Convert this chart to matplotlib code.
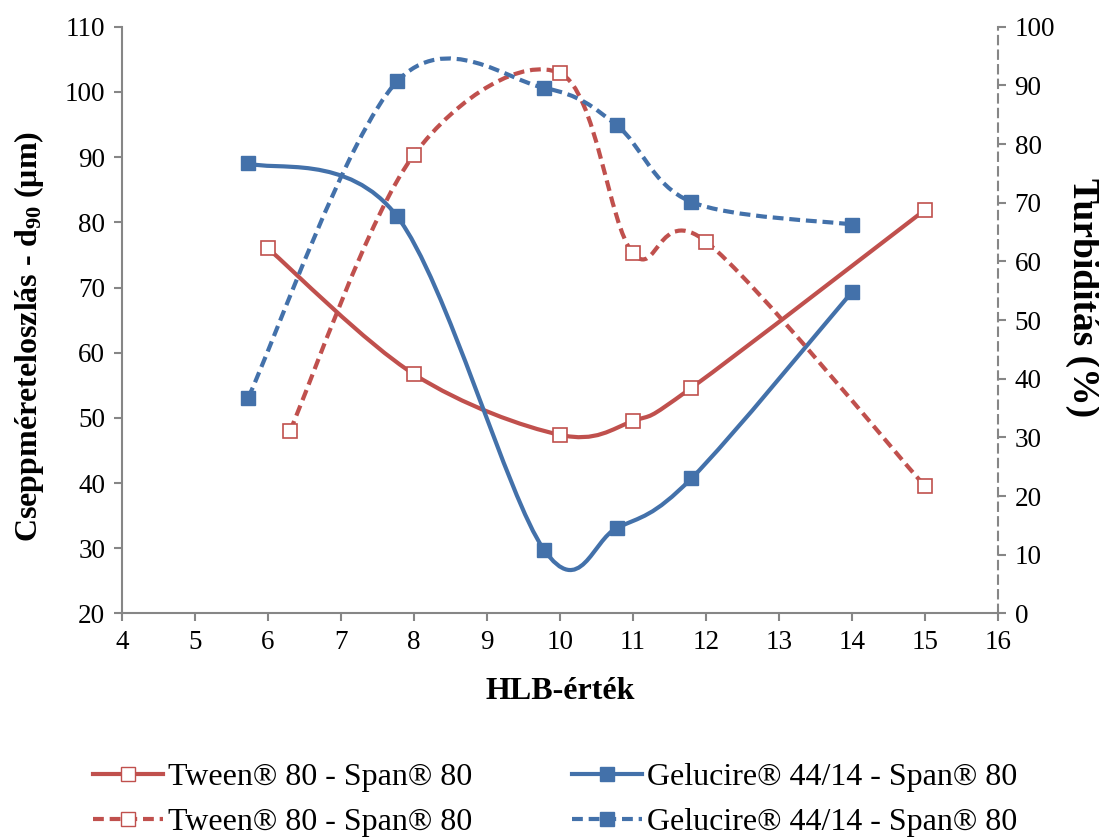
import matplotlib
matplotlib.use("Agg")
import matplotlib.pyplot as plt
import numpy as np
from matplotlib.path import Path
from matplotlib.patches import PathPatch
from matplotlib.lines import Line2D

plt.rcParams['font.family'] = ['Liberation Serif', 'DejaVu Serif']
plt.rcParams['mathtext.fontset'] = 'custom'
plt.rcParams['mathtext.rm'] = 'Liberation Serif'
plt.rcParams['mathtext.bf'] = 'Liberation Serif:bold'
plt.rcParams['mathtext.default'] = 'bf'

# droplet size d90 (left axis, µm)
tween_size_x = [6.0, 8.0, 10.0, 11.0, 11.8, 15.0]
tween_size_y = [76.0, 56.7, 47.4, 49.5, 54.6, 81.9]
gel_size_x = [5.73, 7.77, 9.78, 10.78, 11.8, 14.0]
gel_size_y = [89.1, 80.9, 29.8, 33.1, 40.7, 69.3]

# turbidity (right axis, %)
tween_turb_x = [6.3, 8.0, 10.0, 11.0, 12.0, 15.0]
tween_turb_y = [31.1, 78.2, 92.1, 61.4, 63.4, 21.7]
gel_turb_x = [5.73, 7.77, 9.78, 10.78, 11.79, 14.0]
gel_turb_y = [36.8, 90.7, 89.6, 83.2, 70.2, 66.3]

tween_label = 'Tween® 80 - Span® 80'
gel_label = 'Gelucire® 44/14 - Span® 80'

red = '#C0504D'
blue = '#4371AA'
grey = '#868686'
dash = (0, (2.6, 1.4))


def smooth_path(xs, ys):
    # excel-like smoothed line (catmull-rom as cubic bezier)
    pts = np.column_stack([xs, ys])
    n = len(pts)
    verts = [pts[0]]
    codes = [Path.MOVETO]
    for i in range(n - 1):
        p0 = pts[max(i - 1, 0)]
        p1 = pts[i]
        p2 = pts[i + 1]
        p3 = pts[min(i + 2, n - 1)]
        verts += [p1 + (p2 - p0) / 6, p2 - (p3 - p1) / 6, p2]
        codes += [Path.CURVE4] * 3
    return Path(verts, codes)


def draw(ax, xs, ys, color, ls, filled):
    ax.add_patch(PathPatch(smooth_path(xs, ys), fill=False, edgecolor=color,
                           lw=3, linestyle=ls, capstyle='butt', zorder=3))
    ax.plot(xs, ys, ls='none', marker='s', ms=10 if filled else 9.5,
            mfc=color if filled else 'white', mec=color,
            mew=1 if filled else 1.2, zorder=4)


fig = plt.figure(figsize=(10.99, 8.38), dpi=100)
ax = fig.add_axes([0.111, 0.268, 0.797, 0.700])
ax2 = ax.twinx()

draw(ax, tween_size_x, tween_size_y, red, '-', False)
draw(ax, gel_size_x, gel_size_y, blue, '-', True)
draw(ax2, tween_turb_x, tween_turb_y, red, dash, False)
draw(ax2, gel_turb_x, gel_turb_y, blue, dash, True)

ax.set_xlim(4, 16)
ax.set_ylim(20, 110)
ax2.set_ylim(0, 100)
ax.set_xticks(range(4, 17))
ax.set_yticks(range(20, 111, 10))
ax2.set_yticks(range(0, 101, 10))

for a in (ax, ax2):
    a.spines['top'].set_visible(False)
    for s in a.spines.values():
        s.set_color(grey)
        s.set_linewidth(1.5)
    a.tick_params(colors=grey, labelcolor='black', labelsize=19.5,
                  length=6, width=1.5)
ax.spines['right'].set_visible(False)
ax2.spines['left'].set_visible(False)
ax2.spines['bottom'].set_visible(False)
ax2.spines['right'].set_linestyle((0, (4, 3)))
ax.tick_params(axis='x', pad=6)
ax.tick_params(axis='y', pad=6)
ax2.tick_params(axis='y', pad=6)

ax.set_xlabel('HLB-érték', fontsize=23, fontweight='bold', labelpad=16)
fig.text(0.0265, 0.599, 'Cseppméreteloszlás - d$_{90}$ (μm)', fontsize=23,
         fontweight='bold', rotation=90, ha='center', va='center')
fig.text(0.985, 0.645, 'Turbiditás (%)', fontsize=27, fontweight='bold',
         rotation=270, ha='center', va='center')

handles = [
    Line2D([], [], color=red, lw=3, marker='s', ms=9.5, mfc='white', mec=red),
    Line2D([], [], color=red, lw=3, ls=dash, marker='s', ms=9.5, mfc='white', mec=red),
    Line2D([], [], color=blue, lw=3, marker='s', ms=10, mfc=blue, mec=blue),
    Line2D([], [], color=blue, lw=3, ls=dash, marker='s', ms=10, mfc=blue, mec=blue),
]
labels = [tween_label, tween_label, gel_label, gel_label]
fig.legend(handles, labels, ncol=2, loc='center', bbox_to_anchor=(0.505, 0.0455),
           frameon=False, fontsize=23, handlelength=2.2, handletextpad=0.15,
           columnspacing=3.1, labelspacing=0.5)

fig.savefig('out.png', dpi=100)
